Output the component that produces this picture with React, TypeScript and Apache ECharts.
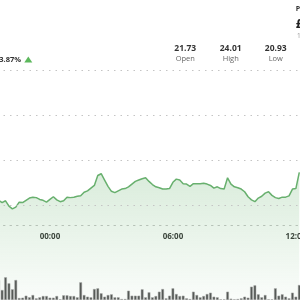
import React, { useEffect, useRef } from 'react';
import * as echarts from 'echarts';

const times = [
  '21:30', '21:40', '21:50', '22:00', '22:10', '22:20', '22:30', '22:40', '22:50',
  '23:00', '23:10', '23:20', '23:30', '23:40', '23:50',
  '00:00', '00:10', '00:20', '00:30', '00:40', '00:50',
  '01:00', '01:10', '01:20', '01:30', '01:40', '01:50',
  '02:00', '02:10', '02:20', '02:30', '02:40', '02:50',
  '03:00', '03:10', '03:20', '03:30', '03:40', '03:50',
  '04:00', '04:10', '04:20', '04:30', '04:40', '04:50',
  '05:00', '05:10', '05:20', '05:30', '05:40', '05:50',
  '06:00', '06:10', '06:20', '06:30', '06:40', '06:50',
  '07:00', '07:10', '07:20', '07:30', '07:40', '07:50',
  '08:00', '08:10', '08:20', '08:30', '08:40', '08:50',
  '09:00', '09:10', '09:20', '09:30', '09:40', '09:50',
  '10:00', '10:10', '10:20', '10:30', '10:40', '10:50',
  '11:00', '11:10', '11:20', '11:30', '11:40', '11:50',
  '12:00', '12:10',
];

const prices = [
  21.11, 21.06, 21.10, 20.98, 20.92, 20.96, 21.07, 21.06, 21.11, 21.16,
  21.18, 21.17, 21.13, 21.11, 21.07, 21.13, 21.19, 21.12, 21.08, 21.10,
  21.18, 21.17, 21.18, 21.20, 21.21, 21.29, 21.32, 21.38, 21.44, 21.66,
  21.70, 21.56, 21.42, 21.31, 21.28, 21.32, 21.36, 21.37, 21.41, 21.47,
  21.53, 21.56, 21.59, 21.61, 21.53, 21.46, 21.41, 21.39, 21.36, 21.36,
  21.37, 21.51, 21.58, 21.56, 21.48, 21.47, 21.42, 21.48, 21.48, 21.48,
  21.49, 21.47, 21.44, 21.38, 21.41, 21.37, 21.36, 21.61, 21.47, 21.41,
  21.39, 21.36, 21.30, 21.19, 21.12, 21.08, 21.16, 21.20, 21.27, 21.30,
  21.22, 21.17, 21.15, 21.18, 21.18, 21.21, 21.36, 21.37, 21.73,
];

const volumes = [
  20, 10, 22.7, 16.7, 10.7, 20, 2, 2.3, 4.3, 2.7,
  5, 1.7, 2.7, 4, 4, 2.3, 2.3, 4, 0.7, 4.7,
  4.7, 4, 4, 2.7, 17.7, 5, 3.3, 2.7, 11, 11.7,
  6.7, 3.3, 5, 5.7, 2.7, 2.7, 1, 1, 9.3, 4.3,
  4.3, 4.3, 10.7, 2.7, 7.7, 2.7, 4, 8.3, 11, 1.7,
  4.3, 11.7, 6, 4, 4.3, 1.7, 1, 8.3, 5, 2.7,
  4, 6, 7.3, 3.3, 2.7, 0.7, 0.7, 8.3, 1.3, 0.7,
  1, 1.7, 3.3, 2.3, 13.3, 14.7, 5.7, 2.7, 5, 0.7,
  0.7, 11.7, 4.3, 5.7, 3.3, 1.7, 7.3, 3.3, 15,
];

const axisTimes = ['00:00', '06:00', '12:00'];
const gridPrices = [21, 22, 23, 24];
const statValues = ['21.73', '24.01', '20.93'];
const statLabels = ['Open', 'High', 'Low'];
const changeText = '+3.87%';
const headerTexts = ['Price', '£22.57', '1D'];

export default function App() {
  const ref = useRef<HTMLDivElement>(null);
  useEffect(() => {
    const chart = echarts.init(ref.current!, null, { renderer: 'svg' });
    const font = "'Open Sans', sans-serif";
    const statX = [188.3, 233.7, 278.8];
    const showTime = (_i: number, v: string) => axisTimes.includes(v);
    const green = '#68b06e';
    const graphic: any[] = [
      {
        type: 'text', x: 24, y: 59,
        style: { text: changeText, align: 'right', verticalAlign: 'middle', textAlign: 'right', textVerticalAlign: 'middle', fontSize: 7.5, fontWeight: 'bold', fontFamily: font, fill: '#333' },
      },
      {
        type: 'polygon',
        shape: { points: [[27.3, 62.5], [31.3, 56.5], [35.3, 62.5]] },
        style: { fill: '#5cb85c' },
      },
      {
        type: 'text', x: 298.7, y: 8.5,
        style: { text: headerTexts[0], align: 'left', verticalAlign: 'middle', textAlign: 'left', textVerticalAlign: 'middle', fontSize: 7, fontWeight: 'bold', fontFamily: font, fill: '#333' },
      },
      {
        type: 'text', x: 298.7, y: 23,
        style: { text: headerTexts[1], align: 'left', verticalAlign: 'middle', textAlign: 'left', textVerticalAlign: 'middle', fontSize: 13, fontWeight: 'bold', fontFamily: font, fill: '#222' },
      },
      {
        type: 'text', x: 300, y: 35,
        style: { text: headerTexts[2], align: 'left', verticalAlign: 'middle', textAlign: 'left', textVerticalAlign: 'middle', fontSize: 6.5, fontFamily: font, fill: '#999' },
      },
    ];
    statValues.forEach((v, k) => {
      graphic.push({
        type: 'text', x: statX[k], y: 47.7,
        style: { text: v, align: 'center', verticalAlign: 'middle', textAlign: 'center', textVerticalAlign: 'middle', fontSize: 8.5, fontWeight: 'bold', fontFamily: font, fill: '#333' },
      });
      graphic.push({
        type: 'text', x: statX[k], y: 58.3,
        style: { text: statLabels[k], align: 'center', verticalAlign: 'middle', textAlign: 'center', textVerticalAlign: 'middle', fontSize: 7.5, fontFamily: font, fill: '#666' },
      });
    });

    chart.setOption({
      animation: false,
      graphic,
      grid: [
        { left: 0, right: 0, top: 70, bottom: 0, outerBoundsMode: 'none', containLabel: false },
        { left: 0, right: 0, top: 250, bottom: 0, outerBoundsMode: 'none', containLabel: false },
      ],
      xAxis: [
        {
          type: 'category', data: times, gridIndex: 0, boundaryGap: true, offset: -75,
          axisLine: { lineStyle: { color: '#c4c4c4', type: [1.5, 5], width: 1 } },
          axisTick: { inside: true, length: 3, alignWithLabel: true, interval: showTime, lineStyle: { color: '#aaa' } },
          axisLabel: { interval: showTime, fontSize: 8, fontWeight: 'bold', color: '#333', margin: 6, fontFamily: font, hideOverlap: false },
          splitLine: { show: false },
        },
        { type: 'category', data: times, gridIndex: 1, boundaryGap: true, show: false },
      ],
      yAxis: [
        { type: 'value', gridIndex: 0, min: 18.9, max: 24, show: false, splitLine: { show: false } },
        { type: 'value', gridIndex: 1, min: 0, max: 50, show: false, splitLine: { show: false } },
      ],
      series: [
        {
          type: 'line', xAxisIndex: 0, yAxisIndex: 0, data: prices, symbol: 'none', z: 2,
          lineStyle: { color: green, width: 1.5 },
          areaStyle: {
            color: new echarts.graphic.LinearGradient(0, 0, 0, 1, [
              { offset: 0, color: 'rgba(108,180,114,0.36)' },
              { offset: 1, color: 'rgba(108,180,114,0.05)' },
            ]),
          },
          markLine: {
            silent: true, symbol: ['none', 'none'], label: { show: false },
            lineStyle: { color: '#c4c4c4', type: [1.5, 5], width: 1 },
            data: gridPrices.map((v) => ({ yAxis: v })),
          },
        },
        {
          type: 'bar', xAxisIndex: 1, yAxisIndex: 1, data: volumes, barWidth: '80%', z: 3,
          itemStyle: { color: '#555956', borderColor: '#a8aba8', borderWidth: 0.5 },
        },
      ],
    });
    return () => chart.dispose();
  }, []);
  return <div ref={ref} style={{ position: 'fixed', left: -3, top: 0, width: 304, height: 300 }} />;
}
